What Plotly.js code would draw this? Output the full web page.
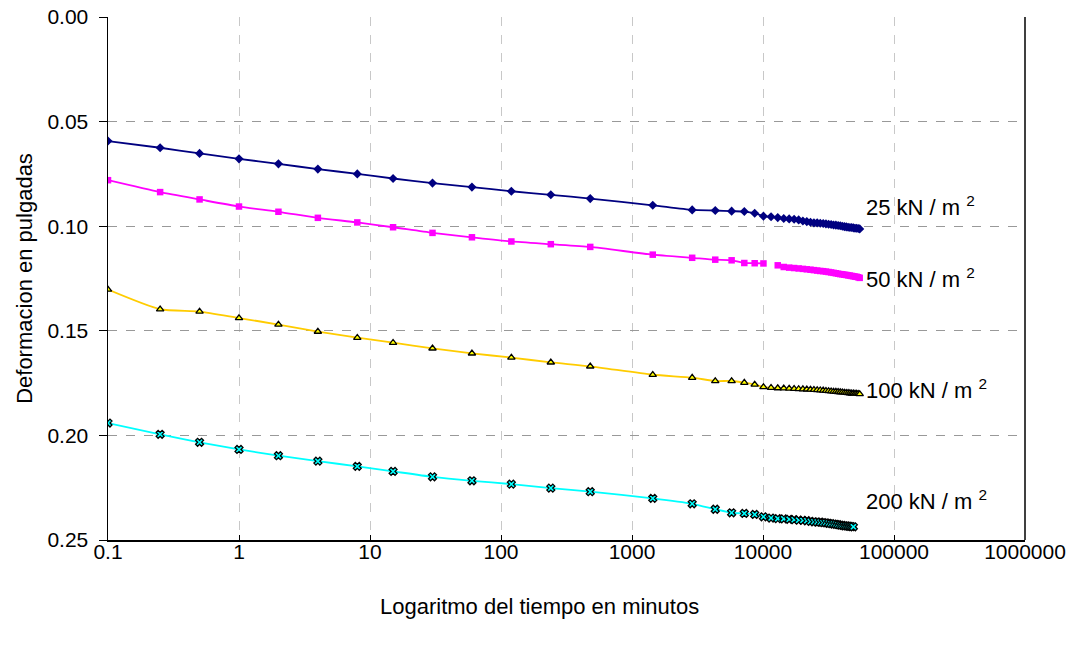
<!DOCTYPE html>
<html>
<head>
<meta charset="utf-8">
<script src="https://cdn.plot.ly/plotly-3.0.1.min.js"></script>
<style>html,body{margin:0;padding:0;background:#fff;}#chart{width:1081px;height:651px;}</style>
</head>
<body>
<div id="chart"></div>
<script>
// Time in minutes
const tiempo = [0.1, 0.25, 0.5, 1, 2, 4, 8, 15, 30, 60, 120, 240, 480,
  1440, 2880, 4320, 5760, 7200, 8640, 10080, 11520, 12960, 14400, 15840, 17280,
  18720, 20160, 21600, 23040, 24480, 25920, 27360, 28800, 30240, 31680, 33120,
  34560, 36000, 37440, 38880, 40320, 41760, 43200, 44640, 46080, 47520, 48960,
  50400, 51840, 53280, 54720];

const def25 = [0.0593, 0.0625, 0.0652, 0.0678, 0.0702, 0.0727, 0.0750, 0.0772, 0.0794, 0.0813, 0.0833, 0.0850, 0.0868,
  0.0900, 0.0922, 0.0925, 0.0928, 0.0930, 0.0938, 0.0952,
  0.0955, 0.0959, 0.0963, 0.0965, 0.0967, 0.0970, 0.0975, 0.0978, 0.0981, 0.0984, 0.0984, 0.0986, 0.0987, 0.0989,
  0.0991, 0.0992, 0.0994, 0.0995, 0.0997, 0.0998, 0.1000, 0.1002, 0.1003, 0.1005, 0.1006, 0.1006, 0.1008, 0.1010,
  0.1010, 0.1011, 0.1013];

const def50 = [0.0780, 0.0837, 0.0872, 0.0906, 0.0931, 0.0960, 0.0982, 0.1005, 0.1032, 0.1053, 0.1073, 0.1086, 0.1099,
  0.1136, 0.1151, 0.1160, 0.1163, 0.1176, 0.1177, 0.1178,
  null, 0.1187, 0.1195, 0.1198, 0.1200, 0.1202, 0.1204, 0.1206, 0.1208, 0.1210, 0.1212, 0.1214, 0.1215, 0.1217,
  0.1219, 0.1221, 0.1223, 0.1225, 0.1227, 0.1229, 0.1230, 0.1232, 0.1233, 0.1235, 0.1236, 0.1238, 0.1239, 0.1241,
  0.1242, 0.1244, 0.1247];

const def100 = [0.1303, 0.1397, 0.1408, 0.1439, 0.1470, 0.1504, 0.1533, 0.1557, 0.1584, 0.1608, 0.1628, 0.1651, 0.1670,
  0.1710, 0.1724, 0.1740, 0.1740, 0.1748, 0.1757, 0.1769,
  0.1772, 0.1774, 0.1775, 0.1776, 0.1777, 0.1778, 0.1779, 0.1780, 0.1781, 0.1782, 0.1783, 0.1784, 0.1785, 0.1787,
  0.1788, 0.1789, 0.1790, 0.1791, 0.1792, 0.1793, 0.1794, 0.1795, 0.1796, 0.1797, 0.1798, 0.1799, 0.1799, 0.1800,
  0.1800, 0.1801, 0.1802];

const def200 = [0.1941, 0.1995, 0.2033, 0.2067, 0.2097, 0.2123, 0.2148, 0.2172, 0.2198, 0.2217, 0.2233, 0.2252, 0.2269,
  0.2301, 0.2327, 0.2353, 0.2370, 0.2373, 0.2378, 0.2389,
  0.2395, 0.2398, 0.2399, 0.2401, 0.2403, 0.2405, 0.2406, 0.2408, 0.2411, 0.2413, 0.2414, 0.2415, 0.2417, 0.2418,
  0.2420, 0.2422, 0.2424, 0.2425, 0.2427, 0.2429, 0.2430, 0.2432, 0.2433, 0.2434, 0.2435, 0.2436, 0.2437];

const etiquetas = ['25 kN / m <sup>2</sup>', '50 kN / m <sup>2</sup>', '100 kN / m <sup>2</sup>', '200 kN / m <sup>2</sup>'];
const etiquetaY = [0.0904, 0.1249, 0.1780, 0.2311];

const xTickVals = [0.1, 1, 10, 100, 1000, 10000, 100000, 1000000];
const xTickText = ['0.1', '1', '10', '100', '1000', '10000', '100000', '1000000'];
const yTickVals = [0, 0.05, 0.10, 0.15, 0.20, 0.25];

const FONT = 'Liberation Sans, Arial, sans-serif';

const traces = [
  {x: tiempo.slice(0, def25.length), y: def25, mode: 'lines+markers', connectgaps: false,
   line: {color: '#000080', width: 1.8, shape: 'spline', smoothing: 0.6},
   marker: {symbol: 'diamond', size: 7, color: '#000080'}},
  {x: tiempo.slice(0, def50.length), y: def50, mode: 'lines+markers', connectgaps: false,
   line: {color: '#FF00FF', width: 1.8, shape: 'spline', smoothing: 0.6},
   marker: {symbol: 'square', size: 6.5, color: '#FF00FF'}},
  {x: tiempo.slice(0, def100.length), y: def100, mode: 'lines+markers', connectgaps: false,
   line: {color: '#FFCC00', width: 1.8, shape: 'spline', smoothing: 0.6},
   marker: {symbol: 'triangle-up', size: 6.5, color: '#FFFF00', line: {color: '#000000', width: 1.3}}},
  {x: tiempo.slice(0, def200.length), y: def200, mode: 'lines+markers', connectgaps: false,
   line: {color: '#00FFFF', width: 1.8, shape: 'spline', smoothing: 0.6},
   marker: {symbol: 'x', size: 7, color: '#00FFFF', line: {color: '#000000', width: 1.3}}}
];

const annotations = etiquetas.map((t, i) => ({
  x: Math.log10(59500), y: etiquetaY[i], xref: 'x', yref: 'y', text: t,
  showarrow: false, xanchor: 'left', yanchor: 'middle',
  font: {family: FONT, size: 22, color: '#000'}
}));
annotations.push({
  x: 0.471, y: -0.127, xref: 'paper', yref: 'paper', yanchor: 'middle', xanchor: 'center',
  text: 'Logaritmo del tiempo en minutos', showarrow: false,
  font: {family: FONT, size: 22, color: '#000'}
});

const layout = {
  width: 1081, height: 651,
  margin: {l: 108, r: 56, t: 17, b: 111},
  paper_bgcolor: '#ffffff', plot_bgcolor: '#ffffff',
  showlegend: false,
  font: {family: FONT, size: 21, color: '#000'},
  xaxis: {
    type: 'log', range: [-1, 6],
    tickvals: xTickVals, ticktext: xTickText,
    showline: true, linecolor: '#000', linewidth: 1.5,
    ticks: 'inside', ticklen: 5, tickcolor: '#000',
    ticklabelstandoff: -8,
    showgrid: true, gridcolor: '#c8c8c8', griddash: 'dash', gridwidth: 1,
    zeroline: false,
    tickfont: {family: FONT, size: 21, color: '#000'}
  },
  yaxis: {
    range: [0.25, 0], autorange: false,
    tickvals: yTickVals, tickformat: '.2f',
    showline: true, linecolor: '#000', linewidth: 1.5,
    ticks: 'outside', ticklen: 8, tickcolor: '#000',
    ticklabelstandoff: 6,
    showgrid: true, gridcolor: '#999999', griddash: 'dash', gridwidth: 1,
    zeroline: false,
    tickfont: {family: FONT, size: 21, color: '#000'},
    title: {text: 'Deformacion en pulgadas', standoff: 8, font: {family: FONT, size: 22, color: '#000'}}
  },
  shapes: [
    {type: 'line', xref: 'paper', yref: 'paper', x0: 1, x1: 1, y0: 0, y1: 1,
     line: {color: '#000', width: 1.5}}
  ],
  annotations: annotations
};

Plotly.newPlot('chart', traces, layout, {displayModeBar: false, staticPlot: true});
</script>
</body>
</html>
